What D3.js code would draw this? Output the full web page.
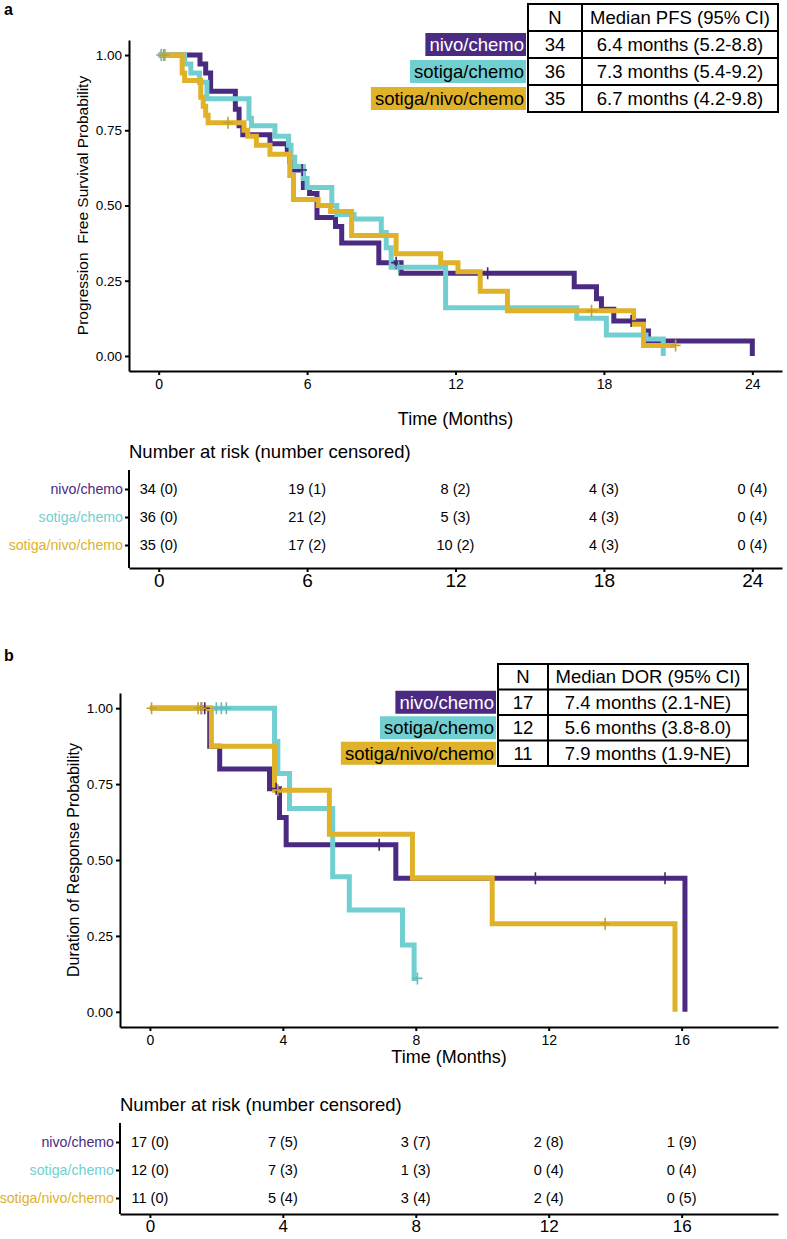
<!DOCTYPE html>
<html><head><meta charset="utf-8">
<script src="https://cdn.jsdelivr.net/npm/d3@7"></script>
<style>
body{margin:0;background:#fff}
svg text{font-family:"Liberation Sans",Arial,Helvetica,sans-serif;fill:#000}
</style>
</head><body>
<svg id="chart" width="787" height="1239"></svg>
<script>
// ---------- shared ----------
const groups = ["nivo/chemo", "sotiga/chemo", "sotiga/nivo/chemo"];
const groupColors = ["#4b2a82", "#72cfd1", "#e0b22a"];
const groupLabelText = ["#ffffff", "#000000", "#000000"];

// ---------- panel a : PFS ----------
const pfsNivoTime = [0, 1.67, 1.9, 2.1, 3.1, 3.25, 3.4, 4.5, 5.2, 5.3, 5.45, 5.85, 6.1, 6.4, 7.15, 7.4, 8.9, 9.8, 16.8, 17.7, 17.9, 18.4, 19.6, 19.8, 24.0];
const pfsNivoSurv = [1, 0.97, 0.94, 0.88, 0.82, 0.765, 0.735, 0.705, 0.676, 0.647, 0.618, 0.56, 0.54, 0.46, 0.43, 0.375, 0.31, 0.275, 0.23, 0.19, 0.155, 0.116, 0.083, 0.05, 0];
const pfsNivoCensorTime = [5.8, 9.6, 13.3, 19.1];
const pfsNivoCensorSurv = [0.618, 0.31, 0.275, 0.116];

const pfsSotigaTime = [0, 1.05, 1.3, 1.65, 1.95, 3.65, 3.75, 4.7, 5.25, 5.35, 5.5, 5.85, 6.0, 7.0, 7.2, 7.9, 9.0, 9.2, 9.4, 11.6, 16.9, 18.1, 19.7, 20.4];
const pfsSotigaSurv = [1, 0.97, 0.94, 0.91, 0.855, 0.79, 0.765, 0.73, 0.70, 0.66, 0.63, 0.59, 0.56, 0.50, 0.47, 0.455, 0.41, 0.36, 0.295, 0.16, 0.125, 0.07, 0.056, 0];
const pfsSotigaCensorTime = [0.1, 0.25, 9.7];
const pfsSotigaCensorSurv = [1, 1, 0.295];

const pfsCombTime = [0, 0.95, 1.05, 1.7, 1.8, 1.9, 2.0, 3.45, 3.6, 3.95, 4.5, 5.3, 5.45, 6.45, 6.95, 7.8, 9.6, 11.4, 12.1, 13.0, 14.1, 19.2, 19.6, 20.9];
const pfsCombSurv = [1, 0.94, 0.915, 0.86, 0.83, 0.80, 0.775, 0.75, 0.73, 0.70, 0.67, 0.60, 0.52, 0.50, 0.48, 0.40, 0.34, 0.31, 0.28, 0.215, 0.15, 0.105, 0.035, 0.035];
const pfsCombCensorTime = [0.2, 2.8, 17.5, 20.9];
const pfsCombCensorSurv = [1, 0.775, 0.15, 0.035];

const pfsN = [34, 36, 35];
const pfsMedian = ["6.4 months (5.2-8.8)", "7.3 months (5.4-9.2)", "6.7 months (4.2-9.8)"];
const pfsTicks = [0, 6, 12, 18, 24];
const pfsAtRiskNivo = [34, 19, 8, 4, 0];
const pfsCensNivo = [0, 1, 2, 3, 4];
const pfsAtRiskSotiga = [36, 21, 5, 4, 0];
const pfsCensSotiga = [0, 2, 3, 3, 4];
const pfsAtRiskComb = [35, 17, 10, 4, 0];
const pfsCensComb = [0, 2, 2, 3, 4];

// ---------- panel b : DOR ----------
const dorNivoTime = [0, 1.8, 2.1, 3.6, 3.9, 4.1, 7.4, 16.1];
const dorNivoSurv = [1, 0.875, 0.80, 0.735, 0.64, 0.55, 0.44, 0];
const dorNivoCensorTime = [1.55, 1.65, 3.8, 6.9, 11.6, 15.5];
const dorNivoCensorSurv = [1, 1, 0.735, 0.55, 0.44, 0.44];

const dorSotigaTime = [0, 3.75, 3.85, 4.2, 5.5, 6.0, 7.6, 7.95, 8.05];
const dorSotigaSurv = [1, 0.89, 0.785, 0.67, 0.445, 0.335, 0.22, 0.11, 0.11];
const dorSotigaCensorTime = [2.0, 2.15, 2.3, 8.05];
const dorSotigaCensorSurv = [1, 1, 1, 0.11];

const dorCombTime = [0, 1.85, 3.75, 5.4, 7.9, 10.3, 15.8];
const dorCombSurv = [1, 0.875, 0.73, 0.585, 0.44, 0.29, 0];
const dorCombCensorTime = [0.05, 1.45, 1.55, 3.85, 13.7];
const dorCombCensorSurv = [1, 1, 1, 0.73, 0.29];

const dorN = [17, 12, 11];
const dorMedian = ["7.4 months (2.1-NE)", "5.6 months (3.8-8.0)", "7.9 months (1.9-NE)"];
const dorTicks = [0, 4, 8, 12, 16];
const dorAtRiskNivo = [17, 7, 3, 2, 1];
const dorCensNivo = [0, 5, 7, 8, 9];
const dorAtRiskSotiga = [12, 7, 1, 0, 0];
const dorCensSotiga = [0, 3, 3, 4, 4];
const dorAtRiskComb = [11, 5, 3, 2, 0];
const dorCensComb = [0, 4, 4, 4, 5];

const yTicks = [0, 0.25, 0.5, 0.75, 1];

// ---------- drawing ----------
const svg = d3.select("#chart");

function styleAxis(g, fontSize) {
  g.select(".domain").attr("stroke", "#000").attr("stroke-width", 2);
  g.selectAll(".tick line").attr("stroke", "#000").attr("stroke-width", 2);
  g.selectAll(".tick text").attr("font-size", fontSize).attr("fill", "#000");
}

function drawPanel(cfg) {
  const x = d3.scaleLinear().domain(cfg.xDomain).range([cfg.left, cfg.right]);
  const y = d3.scaleLinear().domain([-0.05, 1.05]).range([cfg.bottom, cfg.top]);

  svg.append("text").attr("x", 4).attr("y", cfg.letterY).attr("font-size", 16)
    .attr("font-weight", "bold").text(cfg.letter);

  const line = d3.line().x(d => x(d[0])).y(d => y(d[1])).curve(d3.curveStepAfter);
  cfg.curves.forEach((c, i) => {
    const pts = c.time.map((t, k) => [t, c.surv[k]]);
    svg.append("path").attr("d", line(pts)).attr("fill", "none")
      .attr("stroke", groupColors[i]).attr("stroke-width", 5)
      .attr("stroke-linejoin", "miter");
  });
  cfg.curves.forEach((c, i) => {
    c.cTime.forEach((t, k) => {
      const cx = x(t), cy = y(c.cSurv[k]);
      svg.append("path")
        .attr("d", `M${cx - 5},${cy}H${cx + 5}M${cx},${cy - 6}V${cy + 6}`)
        .attr("stroke", d3.color(groupColors[i]).darker(0.3)).attr("stroke-width", 1.6)
        .attr("fill", "none");
    });
  });

  const gx = svg.append("g").attr("transform", `translate(0,${cfg.bottom})`)
    .call(d3.axisBottom(x).tickValues(cfg.ticks).tickSize(4).tickSizeOuter(0).tickPadding(4));
  styleAxis(gx, 14);
  const gy = svg.append("g").attr("transform", `translate(${cfg.left},0)`)
    .call(d3.axisLeft(y).tickValues(yTicks).tickFormat(d3.format(".2f")).tickSize(4).tickSizeOuter(0).tickPadding(3));
  styleAxis(gy, 13.5);

  svg.append("text").attr("x", (cfg.left + cfg.right) / 2).attr("y", cfg.xTitleY)
    .attr("text-anchor", "middle").attr("font-size", 18).text("Time (Months)");
  svg.append("text").attr("transform", `translate(${cfg.yTitleX},${(y(0) + y(1)) / 2}) rotate(-90)`)
    .attr("text-anchor", "middle").attr("font-size", cfg.yTitleFont).style("white-space", "pre")
    .text(cfg.yTitle);

  const L = cfg.legend;
  const rowH = (L.y1 - L.y0) / 4;
  const tg = svg.append("g");
  tg.append("rect").attr("x", L.x0).attr("y", L.y0).attr("width", L.x2 - L.x0)
    .attr("height", L.y1 - L.y0).attr("fill", "#fff").attr("stroke", "#000").attr("stroke-width", 2);
  for (let r = 1; r < 4; r++) {
    tg.append("line").attr("x1", L.x0).attr("x2", L.x2).attr("y1", L.y0 + r * rowH)
      .attr("y2", L.y0 + r * rowH).attr("stroke", "#000").attr("stroke-width", 2);
  }
  tg.append("line").attr("x1", L.x1).attr("x2", L.x1).attr("y1", L.y0).attr("y2", L.y1)
    .attr("stroke", "#000").attr("stroke-width", 2);
  const rowsTxt = [["N", L.header]].concat(L.n.map((n, i) => [String(n), L.median[i]]));
  rowsTxt.forEach((row, r) => {
    const cy = L.y0 + (r + 0.5) * rowH;
    tg.append("text").attr("x", (L.x0 + L.x1) / 2).attr("y", cy).attr("dy", "0.36em")
      .attr("text-anchor", "middle").attr("font-size", 18.5).text(row[0]);
    tg.append("text").attr("x", (L.x1 + L.x2) / 2).attr("y", cy).attr("dy", "0.36em")
      .attr("text-anchor", "middle").attr("font-size", 18.5).text(row[1]);
  });
  groups.forEach((gname, i) => {
    const cy = L.y0 + (i + 1.5) * rowH;
    const t = tg.append("text").attr("x", L.x0 - 4).attr("y", cy).attr("dy", "0.36em")
      .attr("text-anchor", "end").attr("font-size", 18.5).text(gname);
    const w = t.node().getComputedTextLength();
    tg.insert("rect", () => t.node()).attr("x", L.x0 - 2 - w - 6).attr("y", cy - 11.5)
      .attr("width", w + 6).attr("height", 23).attr("fill", groupColors[i]);
    t.style("fill", groupLabelText[i]);
  });

  const R = cfg.risk;
  svg.append("text").attr("x", cfg.left).attr("y", R.titleY).attr("font-size", 18.5)
    .text("Number at risk (number censored)");
  const yr = d3.scalePoint().domain(groups).range([R.row0, R.row2]);
  const gxr = svg.append("g").attr("transform", `translate(0,${R.axisY})`)
    .call(d3.axisBottom(x).tickValues(cfg.ticks).tickSize(4).tickSizeOuter(0).tickPadding(2));
  styleAxis(gxr, R.tickFont);
  const gyr = svg.append("g").attr("transform", `translate(${cfg.left},0)`)
    .call(d3.axisLeft(yr).tickSize(4).tickSizeOuter(0).tickPadding(2));
  gyr.select(".domain").remove();
  gyr.selectAll(".tick line").attr("stroke", "#000").attr("stroke-width", 2);
  gyr.selectAll(".tick text").attr("font-size", 14.2).style("fill", (d, i) => groupColors[i]);
  svg.append("line").attr("x1", cfg.left).attr("x2", cfg.left).attr("y1", R.axisTop).attr("y2", R.axisY)
    .attr("stroke", "#000").attr("stroke-width", 2);
  R.values.forEach((rowVals, i) => {
    cfg.ticks.forEach((t, k) => {
      svg.append("text").attr("x", x(t)).attr("y", yr(groups[i])).attr("dy", "0.36em")
        .attr("text-anchor", "middle").attr("font-size", 14.5)
        .text(`${rowVals.atRisk[k]} (${rowVals.cens[k]})`);
    });
  });
}

drawPanel({
  letter: "a", letterY: 15,
  xDomain: [-1.2, 25.2], left: 129, right: 782, top: 40, bottom: 371,
  ticks: pfsTicks, xTitleY: 425, yTitleX: 88, yTitleFont: 15.5,
  yTitle: "Progression  Free Survival Probability",
  curves: [
    {time: pfsNivoTime, surv: pfsNivoSurv, cTime: pfsNivoCensorTime, cSurv: pfsNivoCensorSurv},
    {time: pfsSotigaTime, surv: pfsSotigaSurv, cTime: pfsSotigaCensorTime, cSurv: pfsSotigaCensorSurv},
    {time: pfsCombTime, surv: pfsCombSurv, cTime: pfsCombCensorTime, cSurv: pfsCombCensorSurv}
  ],
  legend: {x0: 528, x1: 582, x2: 778, y0: 4, y1: 112, header: "Median PFS (95% CI)", n: pfsN, median: pfsMedian},
  risk: {titleY: 458, row0: 489, row2: 545, axisTop: 470, axisY: 568, tickFont: 19,
    values: [
      {atRisk: pfsAtRiskNivo, cens: pfsCensNivo},
      {atRisk: pfsAtRiskSotiga, cens: pfsCensSotiga},
      {atRisk: pfsAtRiskComb, cens: pfsCensComb}
    ]}
});

drawPanel({
  letter: "b", letterY: 661,
  xDomain: [-0.9, 18.9], left: 120, right: 778, top: 693, bottom: 1027,
  ticks: dorTicks, xTitleY: 1063, yTitleX: 79, yTitleFont: 16,
  yTitle: "Duration of Response Probability",
  curves: [
    {time: dorNivoTime, surv: dorNivoSurv, cTime: dorNivoCensorTime, cSurv: dorNivoCensorSurv},
    {time: dorSotigaTime, surv: dorSotigaSurv, cTime: dorSotigaCensorTime, cSurv: dorSotigaCensorSurv},
    {time: dorCombTime, surv: dorCombSurv, cTime: dorCombCensorTime, cSurv: dorCombCensorSurv}
  ],
  legend: {x0: 498, x1: 548, x2: 748, y0: 664, y1: 766, header: "Median DOR (95% CI)", n: dorN, median: dorMedian},
  risk: {titleY: 1111, row0: 1142, row2: 1198, axisTop: 1123, axisY: 1214, tickFont: 17,
    values: [
      {atRisk: dorAtRiskNivo, cens: dorCensNivo},
      {atRisk: dorAtRiskSotiga, cens: dorCensSotiga},
      {atRisk: dorAtRiskComb, cens: dorCensComb}
    ]}
});
</script>
</body></html>
